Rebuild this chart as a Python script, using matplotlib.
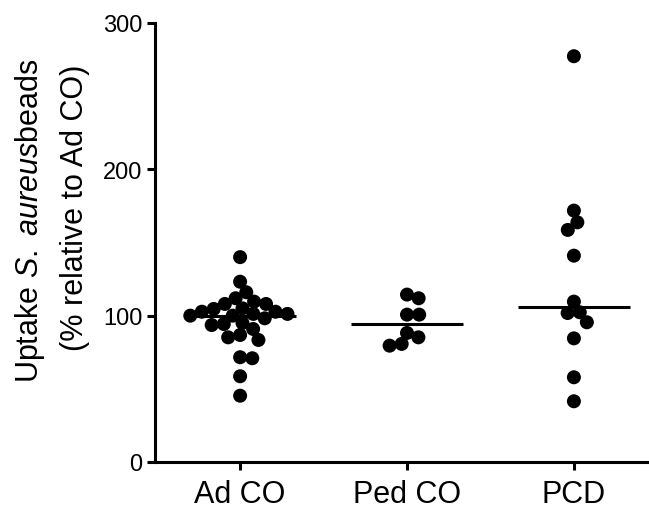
import matplotlib
matplotlib.use('Agg')
import matplotlib.pyplot as plt
import numpy as np

# -------------------------- Data --------------------------
groups = ['Ad CO', 'Ped CO', 'PCD']
ad_co = [140, 123.2, 116, 111.9, 109.6, 108, 108, 105, 104.6, 102.7, 102.7,
         101.2, 101.2, 100, 100, 98.2, 95, 94.3, 93.6, 90.9, 86.8, 85.2,
         83.4, 71.6, 70.9, 58.6, 45.3]
ped_co = [114.4, 111.9, 100.7, 100.7, 88.2, 85.2, 80.7, 79.5]
pcd = [277.3, 171.8, 163.8, 158.6, 141, 109.6, 102.3, 101.8, 95.5, 84.5, 57.9, 41.5]
yticks = [0, 100, 200, 300]

plt.rcParams['font.family'] = ['Liberation Sans', 'DejaVu Sans']
plt.rcParams['mathtext.fontset'] = 'custom'
plt.rcParams['mathtext.rm'] = 'Liberation Sans'
plt.rcParams['mathtext.it'] = 'Liberation Sans:italic'

W, H, DPI = 649, 510, 100
fig = plt.figure(figsize=(W / DPI, H / DPI), dpi=DPI)
ax = fig.add_axes([155 / W, 47 / H, 1 - 155 / W, (463 - 24) / H])
ax.set_xlim(-0.51, 2.45)
ax.set_ylim(0, 300)

marker_px = 14        # drawn dot diameter
collide_px = 12.2     # spacing used for the swarm layout (dots may touch)
px_per_x = ax.get_position().width * W / (2.45 + 0.51)
px_per_y = ax.get_position().height * H / 300.0


def swarm_offsets(vals):
    """simple beeswarm: put each dot as close to the centre as possible"""
    ypx = np.asarray(vals) * px_per_y
    order = np.argsort(-ypx)
    placed = []
    xs = np.zeros(len(vals))
    for i in order:
        cands = [0.0]
        for (px, py) in placed:
            dy = ypx[i] - py
            if abs(dy) < collide_px:
                dx = np.sqrt(collide_px ** 2 - dy ** 2)
                cands += [px + dx, px - dx]
        cands.sort(key=abs)
        for c in cands:
            ok = all((c - px) ** 2 + (ypx[i] - py) ** 2 >= collide_px ** 2 - 1e-6
                     for (px, py) in placed)
            if ok:
                xs[i] = c
                placed.append((c, ypx[i]))
                break
    return xs / px_per_x


for k, vals in enumerate([ad_co, ped_co, pcd]):
    off = swarm_offsets(vals)
    ax.scatter(k + off, vals, s=(marker_px * 72 / DPI) ** 2, color='black',
               edgecolors='none', zorder=3)
    ax.hlines(np.median(vals), k - 0.335, k + 0.335, color='black', lw=2.2, zorder=4)

# -------------------------- Axes styling --------------------------
for side in ['top', 'right']:
    ax.spines[side].set_visible(False)
for side in ['left', 'bottom']:
    ax.spines[side].set_linewidth(2.2)

ax.set_xticks(range(len(groups)))
ax.set_xticklabels(groups, fontsize=22)
ax.set_yticks(yticks)
ax.set_yticklabels([str(t) for t in yticks], fontsize=17)
ax.tick_params(axis='both', direction='out', length=6, width=2.2, pad=3)
ax.tick_params(axis='x', pad=6)

fig.text(30 / W, 1 - 221 / H, r'Uptake $\mathit{S.\ aureus}$beads', rotation=90,
         ha='center', va='center', fontsize=22)
fig.text(75 / W, 1 - 208 / H, '(% relative to Ad CO)', rotation=90,
         ha='center', va='center', fontsize=22)

fig.savefig('out.png', dpi=DPI)
